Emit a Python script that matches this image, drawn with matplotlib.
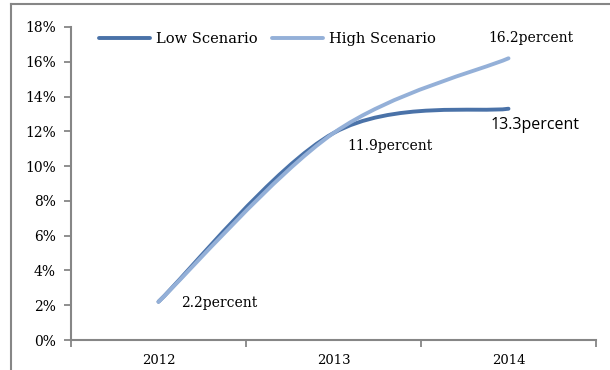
import matplotlib
matplotlib.use("Agg")
import matplotlib.pyplot as plt
from matplotlib.path import Path
from matplotlib.patches import PathPatch
from matplotlib.lines import Line2D

years = ["2012", "2013", "2014"]
low_scenario = [2.2, 11.9, 13.3]
high_scenario = [2.2, 11.9, 16.2]
yticks = [0, 2, 4, 6, 8, 10, 12, 14, 16, 18]
ytick_labels = [f"{v}%" for v in yticks]

LOW_COLOR = "#4A72A8"
HIGH_COLOR = "#94B0D8"
AX_COLOR = "#868686"
SERIF = ["DejaVu Serif"]
FS = 9.5

fig = plt.figure(figsize=(6.1, 3.7), dpi=100)
ax = fig.add_axes([71 / 610, 30 / 370, 525 / 610, 313 / 370])


def smooth_path(xs, ys):
    pts = list(zip(xs, ys))
    n = len(pts)
    verts = [pts[0]]
    codes = [Path.MOVETO]
    for i in range(n - 1):
        p0 = pts[max(i - 1, 0)]
        p1 = pts[i]
        p2 = pts[i + 1]
        p3 = pts[min(i + 2, n - 1)]
        c1 = (p1[0] + (p2[0] - p0[0]) / 6, p1[1] + (p2[1] - p0[1]) / 6)
        c2 = (p2[0] - (p3[0] - p1[0]) / 6, p2[1] - (p3[1] - p1[1]) / 6)
        verts += [c1, c2, p2]
        codes += [Path.CURVE4] * 3
    return Path(verts, codes)


xs = list(range(len(years)))
for series, color in [(low_scenario, LOW_COLOR), (high_scenario, HIGH_COLOR)]:
    patch = PathPatch(smooth_path(xs, series), facecolor="none", edgecolor=color,
                      lw=2.8, capstyle="round", transform=ax.transData, zorder=3)
    ax.add_patch(patch)

ax.set_xlim(-0.5, 2.5)
ax.set_ylim(0, 18)
ax.set_yticks(yticks)
ax.set_yticklabels(ytick_labels, fontfamily=SERIF, fontsize=10)
ax.set_xticks([-0.5, 0.5, 1.5, 2.5])
ax.set_xticklabels([])
ax.set_xticks(xs, minor=True)
ax.set_xticklabels(years, minor=True, fontfamily=SERIF, fontsize=FS)
ax.tick_params(axis="x", which="minor", length=0, pad=10)
ax.tick_params(axis="x", which="major", length=5, width=1.3, color=AX_COLOR, direction="out")
ax.tick_params(axis="y", length=5, width=1.3, color=AX_COLOR, direction="out", pad=6)

for side in ["top", "right"]:
    ax.spines[side].set_visible(False)
for side in ["left", "bottom"]:
    ax.spines[side].set_color(AX_COLOR)
    ax.spines[side].set_linewidth(1.5)

# data labels
ax.text(0.13, high_scenario[0] - 0.1, f"{low_scenario[0]}percent", fontfamily=SERIF,
        fontsize=10, va="center", ha="left")
ax.text(1.08, low_scenario[1] - 0.75, f"{low_scenario[1]}percent", fontfamily=SERIF,
        fontsize=10, va="center", ha="left")
ax.text(2.13, high_scenario[2] + 1.15, f"{high_scenario[2]}percent", fontfamily=SERIF,
        fontsize=10, va="center", ha="center")
ax.text(1.90, low_scenario[2] - 0.95, f"{low_scenario[2]}percent",
        fontfamily=["Open Sans", "DejaVu Sans"], fontsize=11.5, va="center", ha="left")

# legend
handles = [Line2D([], [], color=LOW_COLOR, lw=2.8, solid_capstyle="round"),
           Line2D([], [], color=HIGH_COLOR, lw=2.8, solid_capstyle="round")]
leg = ax.legend(handles, ["Low Scenario", "High Scenario"], loc="upper left",
                bbox_to_anchor=(0.028, 1.025), ncol=2, frameon=False,
                prop={"family": SERIF, "size": 10.5}, handlelength=3.5,
                handletextpad=0.4, columnspacing=1.0)

# outer border of the chart area
fig.add_artist(Line2D([11 / 610, 1.0], [1 - 4 / 370, 1 - 4 / 370], color=AX_COLOR,
                      lw=1.5, transform=fig.transFigure))
fig.add_artist(Line2D([11 / 610, 11 / 610], [0, 1 - 4 / 370], color=AX_COLOR,
                      lw=1.5, transform=fig.transFigure))

fig.savefig("out.png", dpi=100)
